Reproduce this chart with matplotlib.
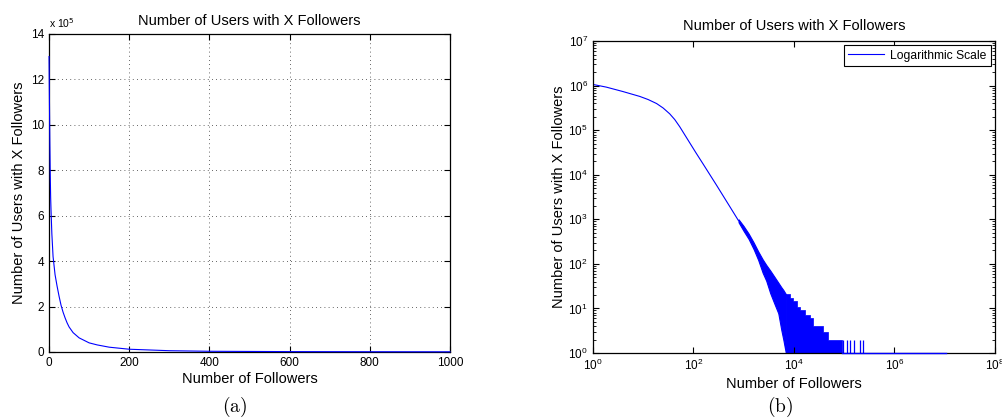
import numpy as np
import matplotlib.pyplot as plt
from matplotlib.ticker import FuncFormatter, LogLocator, NullLocator, NullFormatter

plt.rcParams['font.family'] = ['Liberation Sans', 'DejaVu Sans']

# ---------------------------------------------------------------------------
# (a) linear view, followers 0..1000
# ---------------------------------------------------------------------------
lin_followers = [0, 1, 2, 3, 4, 5, 7, 10, 15, 20, 25, 30, 35, 40, 45, 50, 60,
                 75, 100, 120, 150, 200, 300, 400, 600, 800, 1000]
lin_users = [13.0e5, 11.0e5, 9.2e5, 7.8e5, 6.8e5, 6.2e5, 5.2e5, 4.2e5, 3.4e5,
             2.9e5, 2.45e5, 2.05e5, 1.75e5, 1.5e5, 1.28e5, 1.1e5, 0.85e5,
             0.62e5, 0.40e5, 0.31e5, 0.21e5, 0.12e5, 0.055e5, 0.03e5,
             0.015e5, 0.01e5, 0.007e5]

# ---------------------------------------------------------------------------
# (b) log-log view
# ---------------------------------------------------------------------------
# smooth head of the distribution
log_followers = [1, 1.86, 3.98, 8.61, 12.6, 18.6, 25.1, 33.9, 42.7, 53.7, 67.6,
                 85.1, 112, 155, 288, 537, 794]
log_users = [1.07e6, 9.3e5, 7.4e5, 5.75e5, 4.9e5, 3.98e5, 3.16e5, 2.34e5,
             1.74e5, 1.20e5, 7.9e4, 5.2e4, 3.16e4, 1.78e4, 5.9e3, 1.9e3, 930]

# noisy part: spread of the counts (upper / lower envelope)
band_x = [794, 1000, 1259, 1585, 1950, 2399, 2818, 3388, 4074, 4898, 5623,
          6166, 6918]
band_upper = [1000, 708, 479, 302, 191, 126, 95, 71, 52, 38, 30, 26, 21]
band_lower = [860, 550, 363, 214, 123, 63, 42, 22, 13, 7.8, 3.3, 2.0, 1]

# tail, counts drop to 0/1 so it reaches the bottom of the axis
tail_x = [6918, 8300, 9772, 11500, 13183, 16500, 20893, 24000, 38000, 48000, 89125]
tail_top = [21, 17, 15, 11, 9, 7, 6, 4, 3, 2, 2]

# isolated counts of 2 further out
spike_x = [95500, 115000, 129000, 158000, 204000, 234000]
spike_top = [2, 2, 2, 2, 2, 2]

# counts of 1 out to the largest account
base_x = [89125, 1.05e7]
base_y = [1, 1]


fig = plt.figure(figsize=(10.03, 4.18), dpi=100)

# ----- (a) -----
ax1 = fig.add_axes([0.0489, 0.158, 0.3998, 0.761])
ax1.plot(lin_followers, lin_users, color='blue', lw=0.8, clip_on=False, zorder=3)
ax1.set_xlim(0, 1000)
ax1.set_ylim(0, 14e5)
ax1.set_xticks(range(0, 1001, 200))
ax1.set_yticks(np.arange(0, 14.1e5, 2e5))
ax1.yaxis.set_major_formatter(FuncFormatter(lambda v, p: f'{v / 1e5:g}'))
ax1.text(0, 1.012, r'x 10$^5$', transform=ax1.transAxes, fontsize=7.5, va='bottom')
ax1.grid(True, color='#333333', linestyle=(0, (1, 4)), linewidth=0.6)
ax1.tick_params(direction='in', top=True, right=True, length=4, labelsize=8.5)
ax1.set_title('Number of Users with X Followers', fontsize=10.5, pad=6.5)
ax1.set_xlabel('Number of Followers', fontsize=10.5, labelpad=2)
ax1.set_ylabel('Number of Users with X Followers', fontsize=10.5, labelpad=3.5)
for s in ax1.spines.values():
    s.set_linewidth(0.9)

# ----- (b) -----
ax2 = fig.add_axes([0.591, 0.1555, 0.401, 0.746])
ax2.set_xscale('log')
ax2.set_yscale('log')
ax2.plot(log_followers, log_users, color='blue', lw=0.8, label='Logarithmic Scale')
ax2.fill_between(band_x, band_lower, band_upper, color='blue', lw=0.8)
ax2.fill_between(tail_x, 1, tail_top, step='post', color='blue', lw=0.5)
ax2.vlines(spike_x, 1, spike_top, color='blue', lw=0.9)
ax2.plot(base_x, base_y, color='blue', lw=1.0, clip_on=False, zorder=3)
ax2.set_xlim(1, 1e8)
ax2.set_ylim(1, 1e7)
ax2.set_xticks([1, 1e2, 1e4, 1e6, 1e8])
ax2.xaxis.set_minor_locator(NullLocator())
ax2.yaxis.set_major_locator(LogLocator(base=10, numticks=10))
ax2.yaxis.set_minor_locator(LogLocator(base=10, subs=np.arange(2, 10), numticks=20))
ax2.yaxis.set_minor_formatter(NullFormatter())
ax2.tick_params(which='both', direction='in', top=True, right=True, labelsize=8.5)
ax2.tick_params(which='major', length=4)
ax2.tick_params(which='minor', length=2)
ax2.set_title('Number of Users with X Followers', fontsize=10.5, pad=8.3)
ax2.set_xlabel('Number of Followers', fontsize=10.5, labelpad=2.5)
ax2.set_ylabel('Number of Users with X Followers', fontsize=10.5, labelpad=1.5)
for s in ax2.spines.values():
    s.set_linewidth(0.9)
leg = ax2.legend(loc='upper right', fancybox=False, edgecolor='black', fontsize=8.7,
                 borderaxespad=0.35, handlelength=3.0, framealpha=1,
                 borderpad=0.35, handletextpad=0.5)
leg.get_frame().set_linewidth(0.8)

fig.text(235 / 1003, 1 - 407 / 418, r'$(\mathrm{a})$', math_fontfamily='cm',
         fontsize=14, ha='center', va='center')
fig.text(780 / 1003, 1 - 407 / 418, r'$(\mathrm{b})$', math_fontfamily='cm',
         fontsize=14, ha='center', va='center')

fig.savefig('out.png', dpi=100)
